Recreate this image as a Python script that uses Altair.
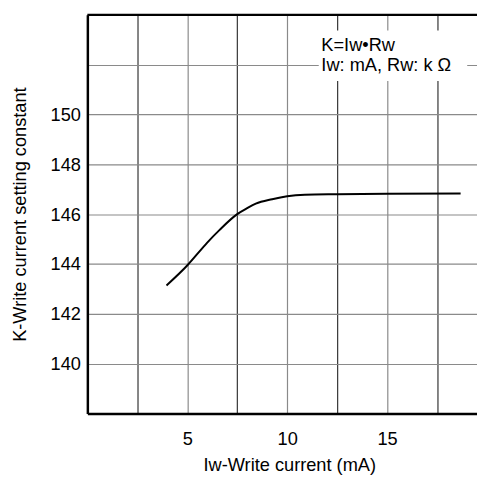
import altair as alt
import pandas as pd

# Curve values
curve_x = [3.96, 5.02, 5.8, 6.0, 6.62, 7.5, 8.0, 8.43, 9.25, 10.0, 10.89, 12.5, 15.0, 18.68]
curve_y = [143.14, 143.96, 144.68, 144.86, 145.37, 146.0, 146.24, 146.42, 146.6, 146.72, 146.78, 146.8, 146.82, 146.83]

x_grid = [2.5, 5, 7.5, 10, 12.5, 15, 17.5]
y_grid = [140, 142, 144, 146, 148, 150, 152]

note_lines = ["K=Iw\u2022Rw", "Iw: mA, Rw: k \u03a9"]
note_x = [11.71, 11.71]
note_y = [152.53, 151.74]
box_x = [11.58]
box_x2 = [19.01]
box_y = [151.35]
box_y2 = [153.37]

X_DOMAIN = [0, 19.5]
Y_DOMAIN = [138, 154]
FONT = "Liberation Sans"
FS = 18.5

curve = pd.DataFrame({"x": curve_x, "y": curve_y})
notes = pd.DataFrame({"t": note_lines, "x": note_x, "y": note_y})
box = pd.DataFrame({"x": box_x, "x2": box_x2, "y": box_y, "y2": box_y2})

xscale = alt.Scale(domain=X_DOMAIN, nice=False, zero=False)
yscale = alt.Scale(domain=Y_DOMAIN, nice=False, zero=False)

xaxis = alt.Axis(
    values=x_grid,
    labelExpr="datum.value % 5 === 0 ? datum.label : ''",
    title="Iw-Write current (mA)",
    grid=True,
    gridColor={"condition": {"test": "datum.value % 5 === 0", "value": "#8a8a8a"}, "value": "#333333"},
    gridWidth=1.2,
    ticks=False,
    tickSize=0,
    domainColor="black",
    domainWidth=2.5,
    labelFont=FONT,
    labelFontSize=FS,
    labelColor="black",
    labelPadding=17,
    labelBaseline="top",
    labelFlush=False,
    titleFont=FONT,
    titleFontSize=FS,
    titleFontWeight="normal",
    titleColor="black",
    titleX=205.3,
    titleY=58.2,
    titleAlign="center",
    titleBaseline="alphabetic",
)

yaxis = alt.Axis(
    values=y_grid,
    labelExpr="datum.value <= 150 ? datum.label : ''",
    title="K-Write current setting constant",
    grid=True,
    gridColor="#8a8a8a",
    gridWidth=1.2,
    ticks=False,
    tickSize=0,
    domainColor="black",
    domainWidth=2.5,
    labelFont=FONT,
    labelFontSize=FS,
    labelColor="black",
    labelPadding=7,
    labelBaseline="middle",
    labelFlush=False,
    titleFont=FONT,
    titleFontSize=FS,
    titleFontWeight="normal",
    titleColor="black",
    titleAngle=270,
    titleX=-62.7,
    titleY=202.6,
    titleAlign="center",
    titleBaseline="alphabetic",
)

line = alt.Chart(curve).mark_line(color="black", strokeWidth=2, interpolate="monotone").encode(
    x=alt.X("x:Q", scale=xscale, axis=xaxis),
    y=alt.Y("y:Q", scale=yscale, axis=yaxis),
)

rect = alt.Chart(box).mark_rect(color="white").encode(
    x=alt.X("x:Q", scale=xscale), x2="x2:Q",
    y=alt.Y("y:Q", scale=yscale), y2="y2:Q",
)

text = alt.Chart(notes).mark_text(
    align="left", baseline="alphabetic", font=FONT, fontSize=FS, color="black"
).encode(
    x=alt.X("x:Q", scale=xscale),
    y=alt.Y("y:Q", scale=yscale),
    text="t:N",
)

top = alt.Chart(box).mark_rule(color="black", strokeWidth=2.5).encode(
    y=alt.datum(Y_DOMAIN[1], scale=yscale),
)

chart = alt.layer(line, rect, text, top).properties(
    width=396.2,
    height=405.3,
    autosize=alt.AutoSizeParams(type="none"),
    padding={"left": 80.7, "top": 3, "right": 0, "bottom": 66},
).configure_view(stroke=None).configure(background="white")

chart.save("out.html", embed_options={"renderer": "svg", "actions": False})
